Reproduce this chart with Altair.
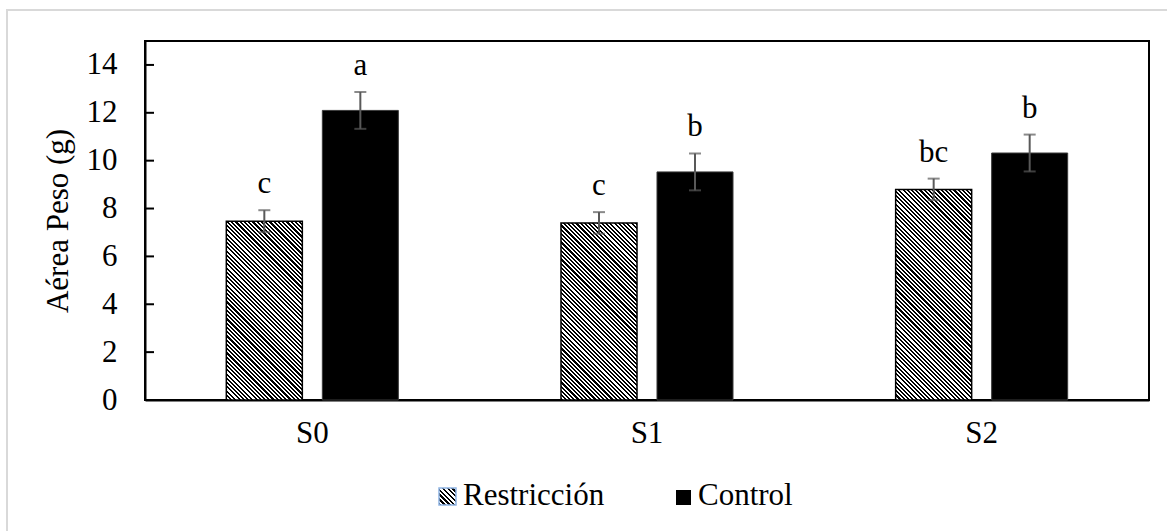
import altair as alt
import pandas as pd

# ---- data ----
grupos = ["S0", "S1", "S2"]
series = ["Restricción", "Control"]
restriccion = [7.47, 7.40, 8.80]
restriccion_err = [0.46, 0.45, 0.45]
control = [12.10, 9.53, 10.32]
control_err = [0.77, 0.77, 0.77]
letras_restriccion = ["c", "c", "bc"]
letras_control = ["a", "b", "b"]
y_ticks = [0, 2, 4, 6, 8, 10, 12, 14]

rows = []
for i, g in enumerate(grupos):
    rows.append(dict(grupo=g, serie="Restricción", valor=restriccion[i],
                     err=restriccion_err[i], letra=letras_restriccion[i]))
    rows.append(dict(grupo=g, serie="Control", valor=control[i],
                     err=control_err[i], letra=letras_control[i]))
df = pd.DataFrame(rows)
df["lo"] = df["valor"] - df["err"]
df["hi"] = df["valor"] + df["err"]

ticks_df = pd.DataFrame({"valor": y_ticks})
legend_df = pd.DataFrame({"label": series})

# ---- layout / style ----
W, H = 1004, 359
YMAX = 15
FONT = "Liberation Serif"
FS = 31
P_IN, P_OUT = 0.2083, 0.847
ERR_COLOR = "#595959"


def hatch(w, h, period=3.0, frac=0.5):
    """Diagonal (\\) hatch as a linear gradient in bounding-box units."""
    s = (w + h) / (w * w + h * h)
    a, b = s * w, s * h
    n = ((w + h) / 2 ** 0.5) / period
    stops = []
    j = 0
    while j / n < 1:
        t0 = j / n
        t1 = min((j + frac) / n, 1.0)
        t2 = min((j + 1) / n, 1.0)
        stops += [
            {"color": "black", "offset": round(t0, 5)},
            {"color": "black", "offset": round(t1, 5)},
            {"color": "white", "offset": round(t1, 5)},
            {"color": "white", "offset": round(t2, 5)},
        ]
        j += 1
    return {"gradient": "linear", "x1": 0, "y1": 1, "x2": a, "y2": 1 - b,
            "stops": stops}


y_scale = alt.Scale(domain=[0, YMAX], nice=False, zero=True)
y_axis = alt.Axis(title="Aérea Peso (g)", values=y_ticks, ticks=False,
                  grid=False, labelFont=FONT, labelFontSize=FS,
                  labelColor="black", labelPadding=28, domainColor="black",
                  domainWidth=2, titleFont=FONT, titleFontSize=FS,
                  titleFontWeight="normal", titleColor="black",
                  titlePadding=12)


def yenc(field):
    return alt.Y(f"{field}:Q", scale=y_scale, axis=y_axis, title="Aérea Peso (g)")


x_enc = alt.X(
    "grupo:N", sort=grupos,
    scale=alt.Scale(paddingInner=0, paddingOuter=0),
    axis=alt.Axis(title=None, labelAngle=0, ticks=False, labelFont=FONT,
                  labelFontSize=FS, labelColor="black", labelPadding=18,
                  domainColor="black", domainWidth=2),
)
xoff = alt.XOffset("serie:N", sort=series,
                   scale=alt.Scale(paddingInner=P_IN, paddingOuter=P_OUT))

base = alt.Chart(df)

control_bars = base.transform_filter(alt.datum.serie == "Control").mark_bar(
    fill="black", stroke="#3a3a3a", strokeWidth=1
).encode(x=x_enc, xOffset=xoff, y=yenc("valor"))

# pixel size of a bar, used only to orient the hatch at 45 degrees
step = (W / len(grupos)) / (2 - P_IN + 2 * P_OUT)
bar_w = step * (1 - P_IN)

restr_layers = []
for i, g in enumerate(grupos):
    h_px = restriccion[i] * H / YMAX
    restr_layers.append(
        base.transform_filter(
            (alt.datum.serie == "Restricción") & (alt.datum.grupo == g)
        ).mark_bar(fill=hatch(bar_w, h_px), stroke="black", strokeWidth=1.5)
        .encode(x=x_enc, xOffset=xoff, y=yenc("valor"))
    )

err_rule = base.mark_rule(color=ERR_COLOR, strokeWidth=2).encode(
    x=x_enc, xOffset=xoff, y=yenc("lo"), y2="hi:Q")
cap_lo = base.mark_tick(color=ERR_COLOR, thickness=2, size=12).encode(
    x=x_enc, xOffset=xoff, y=yenc("lo"))
cap_hi = base.mark_tick(color=ERR_COLOR, thickness=2, size=12).encode(
    x=x_enc, xOffset=xoff, y=yenc("hi"))

letters = base.mark_text(font=FONT, fontSize=FS, baseline="alphabetic",
                         dy=-17, color="black").encode(
    x=x_enc, xOffset=xoff, y=yenc("hi"), text="letra:N")

inner_ticks = alt.Chart(ticks_df).mark_rule(color="black", strokeWidth=2).encode(
    y=yenc("valor"), x=alt.value(0), x2=alt.value(9))

# ---- manual legend (hatched swatch is not possible in a native legend) ----
leg_r_box = alt.Chart(legend_df).transform_filter(
    alt.datum.label == "Restricción").mark_rect(
    fill=hatch(17, 17, period=3.4), stroke="#8eb4e3", strokeWidth=1.5
).encode(x=alt.value(294), x2=alt.value(311), y=alt.value(447), y2=alt.value(464))
leg_r_txt = alt.Chart(legend_df).transform_filter(
    alt.datum.label == "Restricción").mark_text(
    font=FONT, fontSize=FS, align="left", baseline="alphabetic", color="black"
).encode(x=alt.value(318), y=alt.value(464), text="label:N")
leg_c_box = alt.Chart(legend_df).transform_filter(
    alt.datum.label == "Control").mark_rect(fill="black").encode(
    x=alt.value(531), x2=alt.value(546), y=alt.value(449), y2=alt.value(464))
leg_c_txt = alt.Chart(legend_df).transform_filter(
    alt.datum.label == "Control").mark_text(
    font=FONT, fontSize=FS, align="left", baseline="alphabetic", color="black"
).encode(x=alt.value(553), y=alt.value(464), text="label:N")

outer = alt.Chart(legend_df.head(1)).mark_rect(
    fillOpacity=0, stroke="#d9d9d9", strokeWidth=2
).encode(x=alt.value(-138), x2=alt.value(W + 200),
         y=alt.value(-31), y2=alt.value(H + 300))

chart = alt.layer(
    control_bars, *restr_layers, err_rule, cap_lo, cap_hi, letters,
    inner_ticks, outer, leg_r_box, leg_r_txt, leg_c_box, leg_c_txt,
).properties(
    width=W, height=H, autosize="none",
    padding={"left": 145, "top": 41, "right": 18, "bottom": 131},
    background="white",
).configure_view(stroke="black", strokeWidth=2)

chart.save("out.html", embed_options={"renderer": "svg", "actions": False})
